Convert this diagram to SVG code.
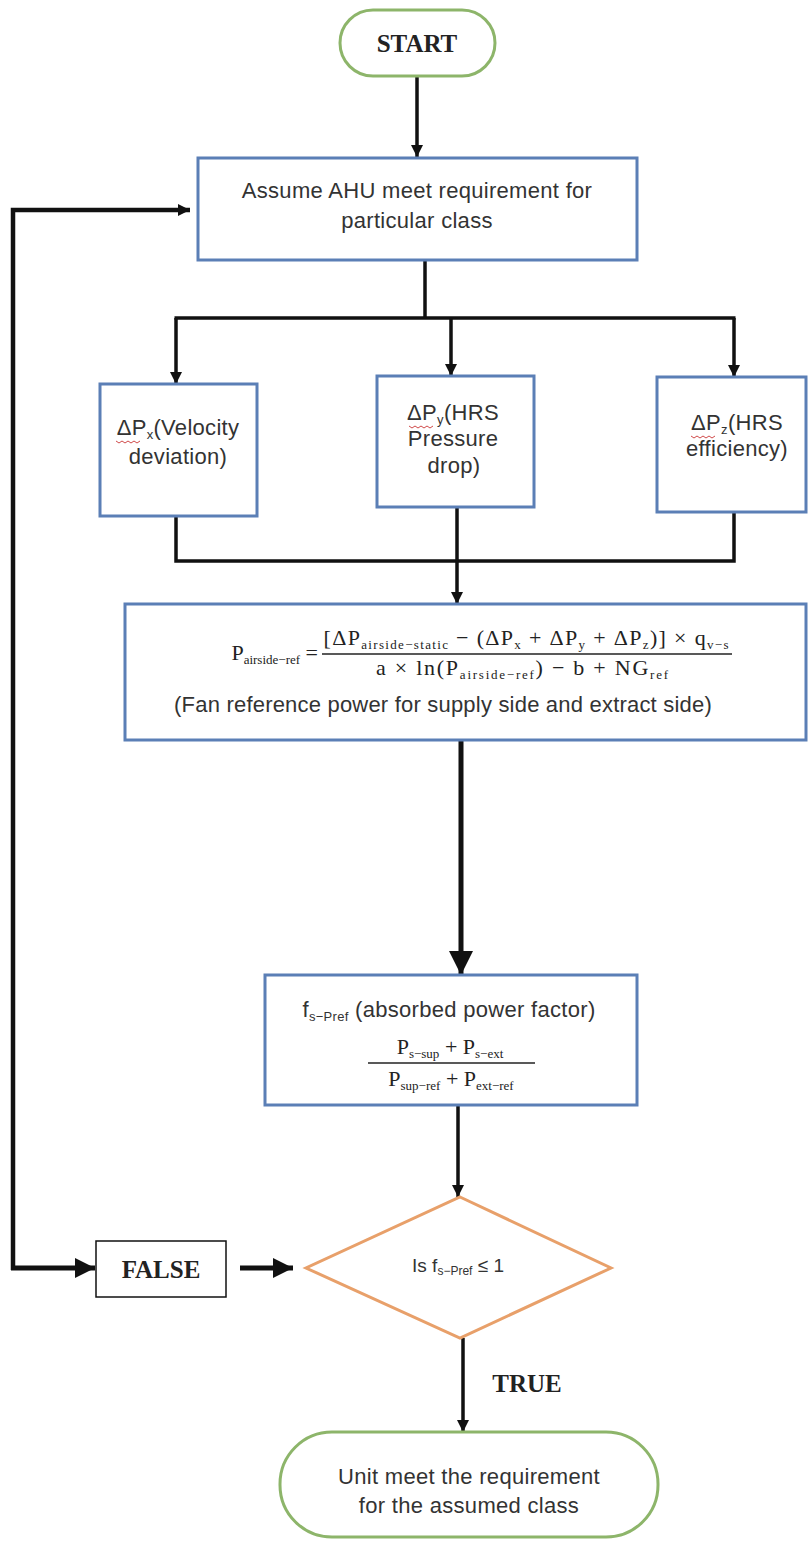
<svg xmlns="http://www.w3.org/2000/svg" width="808" height="1543" viewBox="0 0 808 1543">
<style>
  .bg{fill:#ffffff}
  .box{fill:#ffffff;stroke:#5b7fb6;stroke-width:3}
  .term{fill:#ffffff;stroke:#8db56a;stroke-width:3}
  .dec{fill:#ffffff;stroke:#e8a06a;stroke-width:3}
  .lbl{fill:#ffffff;stroke:#111;stroke-width:1.5}
  .t{font-family:"Liberation Sans",Arial,sans-serif;font-size:22px;fill:#333;text-anchor:middle;letter-spacing:0.3px}
  .ts{font-family:"Liberation Sans",Arial,sans-serif;font-size:19px;fill:#333;text-anchor:middle}
  .m{font-family:"Liberation Serif","Times New Roman",serif;font-size:22px;fill:#222;text-anchor:middle}
  .b{font-family:"Liberation Serif","Times New Roman",serif;font-size:25px;font-weight:bold;fill:#222;text-anchor:middle}
  .sub{font-size:13px}
  .c{fill:none;stroke:#111;stroke-width:3.5;stroke-linejoin:miter}
  .ck{fill:none;stroke:#111;stroke-width:5;stroke-linejoin:miter}
  .sq{fill:none;stroke:#d04a4a;stroke-width:1}
</style>
<defs>
  <marker id="ah" viewBox="0 0 10 10" refX="10" refY="5" markerWidth="13" markerHeight="12" markerUnits="userSpaceOnUse" orient="auto">
    <path d="M0,0 L10,5 L0,10 z" fill="#111"/>
  </marker>
  <marker id="ahb" viewBox="0 0 10 10" refX="10" refY="5" markerWidth="20" markerHeight="20" markerUnits="userSpaceOnUse" orient="auto">
    <path d="M0,0 L10,5 L0,10 z" fill="#111"/>
  </marker>
  <marker id="ahx" viewBox="0 0 10 10" refX="10" refY="5" markerWidth="24" markerHeight="26" markerUnits="userSpaceOnUse" orient="auto">
    <path d="M0,0 L10,5 L0,10 z" fill="#111"/>
  </marker>
</defs>
<rect class="bg" x="0" y="0" width="808" height="1543"/>

<g id="connectors">
  <path class="c" d="M417 76 V157" marker-end="url(#ah)"/>
  <path class="ck" d="M13 1270 V210 H190" marker-end="url(#ah)" style="stroke-width:4.5"/>
  <path class="ck" d="M11 1268 H95" marker-end="url(#ahb)"/>
  <path class="c" d="M425 260 V318"/>
  <path class="c" d="M174.5 318 H735.5"/>
  <path class="c" d="M176 318 V384" marker-end="url(#ah)"/>
  <path class="c" d="M451 318 V376" marker-end="url(#ah)"/>
  <path class="c" d="M734 318 V377" marker-end="url(#ah)"/>
  <path class="c" d="M176 516 V561 H734 V512"/>
  <path class="c" d="M457 507 V604" marker-end="url(#ah)"/>
  <path class="ck" d="M461 740 V975" marker-end="url(#ahx)"/>
  <path class="c" d="M458 1105 V1197" marker-end="url(#ah)"/>
  <path class="ck" d="M240 1268 H293" marker-end="url(#ahb)"/>
  <path class="c" d="M463 1338 V1432" marker-end="url(#ah)"/>
</g>

<g id="start">
  <rect class="term" x="340" y="10" width="155" height="66" rx="33"/>
  <text class="b" x="417" y="52">START</text>
</g>

<g id="assume">
  <rect class="box" x="198" y="158" width="439" height="102"/>
  <text class="t" x="417" y="198">Assume AHU meet requirement for</text>
  <text class="t" x="417" y="228">particular class</text>
</g>

<g id="dpx">
  <rect class="box" x="100" y="384" width="157" height="132"/>
  <text class="t" x="178" y="435">ΔP<tspan class="sub" dy="4">x</tspan><tspan dy="-4">(Velocity</tspan></text>
  <text class="t" x="178" y="464">deviation)</text>
  <path class="sq" d="M116 441 l3 2 l3 -2 l3 2 l3 -2 l3 2 l3 -2 l3 2 l3 -2"/>
</g>

<g id="dpy">
  <rect class="box" x="377" y="376" width="157" height="131"/>
  <text class="t" x="453" y="420">ΔP<tspan class="sub" dy="4">y</tspan><tspan dy="-4">(HRS</tspan></text>
  <text class="t" x="453" y="446">Pressure</text>
  <text class="t" x="454" y="473">drop)</text>
  <path class="sq" d="M409 426 l3 2 l3 -2 l3 2 l3 -2 l3 2 l3 -2 l3 2 l3 -2"/>
</g>

<g id="dpz">
  <rect class="box" x="657" y="377" width="149" height="135"/>
  <text class="t" x="737" y="430">ΔP<tspan class="sub" dy="4">z</tspan><tspan dy="-4">(HRS</tspan></text>
  <text class="t" x="737" y="456">efficiency)</text>
  <path class="sq" d="M691 436 l3 2 l3 -2 l3 2 l3 -2 l3 2 l3 -2 l3 2 l3 -2"/>
</g>

<g id="fanref">
  <rect class="box" x="125" y="604" width="681" height="136"/>
  <text class="m" x="318" y="660" style="text-anchor:end">P<tspan class="sub" dy="4">airside−ref</tspan><tspan dy="-4"> =</tspan></text>
  <text class="m" x="526" y="645" textLength="405" lengthAdjust="spacing">[ΔP<tspan class="sub" dy="4">airside−static</tspan><tspan dy="-4"> − (ΔP</tspan><tspan class="sub" dy="4">x</tspan><tspan dy="-4"> + ΔP</tspan><tspan class="sub" dy="4">y</tspan><tspan dy="-4"> + ΔP</tspan><tspan class="sub" dy="4">z</tspan><tspan dy="-4">)] × q</tspan><tspan class="sub" dy="4">v−s</tspan></text>
  <line x1="322" y1="654" x2="732" y2="654" stroke="#222" stroke-width="1.5"/>
  <text class="m" x="522" y="675" textLength="292" lengthAdjust="spacing">a × ln(P<tspan class="sub" dy="4">airside−ref</tspan><tspan dy="-4">) − b + NG</tspan><tspan class="sub" dy="4">ref</tspan></text>
  <text class="t" x="443" y="712" style="letter-spacing:0.2px">(Fan reference power for supply side and extract side)</text>
</g>

<g id="absorbed">
  <rect class="box" x="265" y="975" width="372" height="130"/>
  <text class="t" x="449" y="1017">f<tspan class="sub" dy="4">s−Pref</tspan><tspan dy="-4"> (absorbed power factor)</tspan></text>
  <text class="m" x="450" y="1054">P<tspan class="sub" dy="4">s−sup</tspan><tspan dy="-4"> + P</tspan><tspan class="sub" dy="4">s−ext</tspan></text>
  <line x1="368" y1="1063" x2="535" y2="1063" stroke="#222" stroke-width="1.5"/>
  <text class="m" x="451" y="1086">P<tspan class="sub" dy="4">sup−ref</tspan><tspan dy="-4"> + P</tspan><tspan class="sub" dy="4">ext−ref</tspan></text>
</g>

<g id="decision">
  <polygon class="dec" points="460,1197 611,1268 460,1338 306,1268"/>
  <text class="ts" x="458" y="1272">Is f<tspan style="font-size:12px" dy="3">s−Pref</tspan><tspan dy="-3"> ≤ 1</tspan></text>
</g>

<g id="false">
  <rect class="lbl" x="96" y="1241" width="130" height="56"/>
  <text class="b" x="161" y="1278">FALSE</text>
</g>

<g id="true">
  <text class="b" x="527" y="1392">TRUE</text>
</g>

<g id="end">
  <rect class="term" x="280" y="1432" width="378" height="105" rx="52"/>
  <text class="t" x="469" y="1484">Unit meet the requirement</text>
  <text class="t" x="469" y="1513">for the assumed class</text>
</g>
</svg>
